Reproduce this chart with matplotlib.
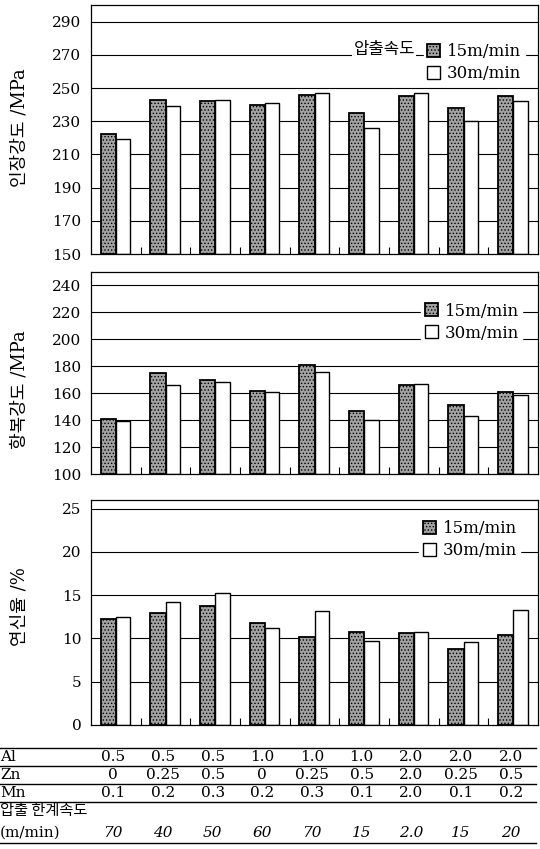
import matplotlib.pyplot as plt
import matplotlib.transforms as mtransforms
from matplotlib.lines import Line2D
from matplotlib.patches import Patch
import numpy as np

# 데이터
n_groups = 9
tensile_15 = [222, 243, 242, 240, 246, 235, 245, 238, 245]
tensile_30 = [219, 239, 243, 241, 247, 226, 247, 230, 242]
yield_15 = [141, 175, 170, 162, 181, 147, 166, 151, 161]
yield_30 = [139, 166, 168, 161, 176, 140, 167, 143, 159]
elong_15 = [12.2, 13.0, 13.7, 11.8, 10.2, 10.8, 10.6, 8.8, 10.4]
elong_30 = [12.5, 14.2, 15.2, 11.2, 13.2, 9.7, 10.8, 9.6, 13.3]

al = ['0.5', '0.5', '0.5', '1.0', '1.0', '1.0', '2.0', '2.0', '2.0']
zn = ['0', '0.25', '0.5', '0', '0.25', '0.5', '2.0', '0.25', '0.5']
mn = ['0.1', '0.2', '0.3', '0.2', '0.3', '0.1', '2.0', '0.1', '0.2']
limit_speed = ['70', '40', '50', '60', '70', '15', '2.0', '15', '20']

series_labels = ['15m/min', '30m/min']

serif = ['DejaVu Serif', 'Noto Sans CJK KR']
plt.rcParams['font.family'] = serif
plt.rcParams['hatch.linewidth'] = 0.6

W, H = 540, 849
fig = plt.figure(figsize=(5.4, 8.49), dpi=100)


def fx(px):
    return px / W


def fy(py):
    return 1 - py / H


def make_axes(top, bottom):
    return fig.add_axes([fx(91), fy(bottom), fx(538) - fx(91), fy(top) - fy(bottom)])


dark_style = dict(facecolor='#a2a2a2', edgecolor='black', hatch='.....', linewidth=1.3)
white_style = dict(facecolor='white', edgecolor='black', linewidth=1.0)


def draw_panel(ax, v15, v30, ylim, yticks, grid_vals):
    x = np.arange(n_groups)
    ax.set_axisbelow(True)
    for g in grid_vals:
        ax.axhline(g, color='black', linewidth=0.8, zorder=0)
    ax.bar(x - 0.15, np.array(v15) - ylim[0], width=0.31, bottom=ylim[0], zorder=2, **dark_style)
    ax.bar(x + 0.15, np.array(v30) - ylim[0], width=0.29, bottom=ylim[0], zorder=2, **white_style)
    ax.set_xlim(-0.5, n_groups - 0.5)
    ax.set_ylim(*ylim)
    ax.set_yticks(yticks)
    ax.tick_params(axis='y', length=0, pad=7, labelsize=11)
    ax.set_xticks([])
    ax.set_xticks(np.arange(0.5, n_groups - 0.5, 1.0), minor=True)
    ax.tick_params(axis='x', which='minor', direction='in', length=5, width=0.8)
    for s in ax.spines.values():
        s.set_linewidth(0.9)


def add_legend(ax, x, y):
    handles = [Patch(**dark_style), Patch(**white_style)]
    leg = ax.legend(handles, series_labels, loc='upper right', bbox_to_anchor=(x, y),
                    frameon=True, fancybox=False, edgecolor='white', framealpha=1,
                    fontsize=12, handlelength=0.8, handleheight=0.8, handletextpad=0.4,
                    labelspacing=0.3, borderpad=0.2, borderaxespad=0)
    leg.set_zorder(5)
    return leg


# 인장강도
ax1 = make_axes(5, 254)
draw_panel(ax1, tensile_15, tensile_30, (150, 300), range(150, 300, 20), range(170, 300, 20))
add_legend(ax1, 0.97, 0.861)
ax1.text(0.725, 0.82, '압출속도', transform=ax1.transAxes, ha='right', va='center',
         fontsize=12, family=['Noto Sans CJK KR'], zorder=6,
         bbox=dict(facecolor='white', edgecolor='none', pad=1))

# 항복강도
ax2 = make_axes(272, 474)
draw_panel(ax2, yield_15, yield_30, (100, 250), range(100, 250, 20), range(120, 250, 20))
add_legend(ax2, 0.965, 0.865)

# 연신율
ax3 = make_axes(500, 725)
draw_panel(ax3, elong_15, elong_30, (0, 26), range(0, 26, 5), range(5, 26, 5))
add_legend(ax3, 0.96, 0.924)

fig.text(fx(20), fy(128), '인장강도 /MPa', rotation=90, ha='center', va='center', fontsize=13)
fig.text(fx(20), fy(390), '항복강도 /MPa', rotation=90, ha='center', va='center', fontsize=13)
fig.text(fx(20), fy(607), '연신율 /%', rotation=90, ha='center', va='center', fontsize=13)

# 아래 표
trans = mtransforms.blended_transform_factory(ax3.transData, fig.transFigure)
rows = [('Al', al, 757), ('Zn', zn, 775), ('Mn', mn, 793)]
for name, vals, py in rows:
    fig.text(0.0, fy(py), name, ha='left', va='center', fontsize=11)
    for i, v in enumerate(vals):
        ax3.text(i - 0.05, fy(py), v, transform=trans, ha='center', va='center', fontsize=11)
fig.text(0.0, fy(811), '압출 한계속도', ha='left', va='center', fontsize=11,
         family=['Noto Sans CJK KR'])
fig.text(0.0, fy(833), '(m/min)', ha='left', va='center', fontsize=11)
for i, v in enumerate(limit_speed):
    ax3.text(i - 0.05, fy(833), v, transform=trans, ha='center', va='center', fontsize=11,
             style='italic')

for py in [748, 766, 784, 802, 843]:
    fig.add_artist(Line2D([0, fx(536)], [fy(py), fy(py)], color='black', linewidth=1.0))

plt.savefig('out.png', dpi=100)
